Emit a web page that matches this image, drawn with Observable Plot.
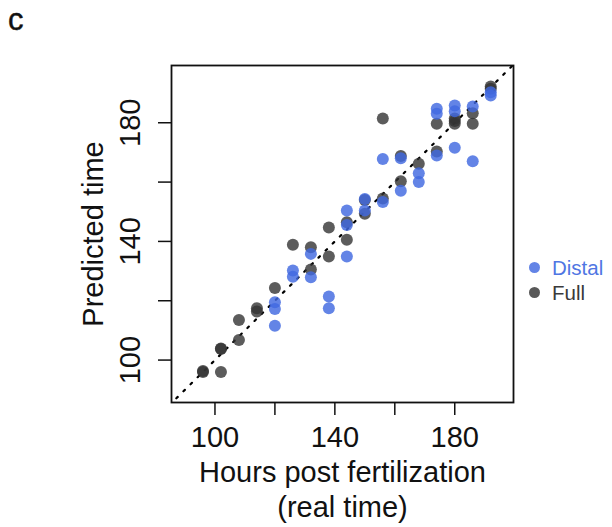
<!DOCTYPE html>
<html>
<head>
<meta charset="utf-8">
<script src="https://cdn.jsdelivr.net/npm/d3@7"></script>
<script src="https://cdn.jsdelivr.net/npm/@observablehq/plot@0.6"></script>
<style>
  html, body { margin: 0; padding: 0; background: #fff; }
  #wrap { position: relative; width: 612px; height: 527px; font-family: "Liberation Sans", Arial, sans-serif; }
  #chart { position: absolute; left: 0; top: 0; }
  .panel { position: absolute; left: 8px; top: 1px; font-size: 31px; line-height: 38px; color: #111; -webkit-text-stroke: 0.4px #111; }
  .legend { position: absolute; left: 529px; top: 255px; font-size: 20.5px; }
  .legend .row { display: flex; align-items: center; height: 25px; }
  .legend .sw { display: inline-block; width: 11px; height: 11px; border-radius: 50%; margin-right: 12px; }
</style>
</head>
<body>
<div id="wrap">
  <div id="chart"></div>
  <div class="panel">c</div>
  <div class="legend" id="legend"></div>
</div>
<script>
// ---- data (hours post fertilization vs predicted time) ----
const distalHours = [120,120,120, 126,126, 132,132, 138,138, 144,144,144, 150,150, 156,156, 162,162, 168,168, 174,174,174, 180,180,180, 186,186, 192,192];
const distalPred  = [119.5,117.2,111.6, 130.2,128.1, 135.8,127.9, 121.4,117.5, 150.4,145.5,134.9, 154.3,150.4, 167.8,153.3, 168.0,157.1, 163.0,160.0, 184.7,183.0,169.0, 185.8,183.9,171.6, 185.5,167.0, 190.3,189.2];

const fullHours = [96,96, 102,102,102, 108,108, 114,114, 120, 126, 132,132, 138,138, 144,144, 150,150, 156,156, 162,162, 168, 174,174, 180,180,180, 186,186, 192,192];
const fullPred  = [96.0,96.3, 103.7,103.9,96.0, 113.5,106.8, 117.5,116.4, 124.3, 138.9, 138.0,130.5, 144.7,134.9, 146.5,140.6, 154.0,149.3, 181.4,154.5, 168.8,160.3, 166.2, 179.7,170.3, 181.4,180.6,179.7, 183.2,179.7, 192.2,191.5];

const seriesNames  = ["Distal", "Full"];
const seriesColors = ["#4169E1", "#333333"];
const legendTextColors = ["#4f76e3", "#3a3a3a"];

const xTicks = [100, 120, 140, 160, 180];
const xTickLabels = [100, 140, 180];
const yTicks = [100, 120, 140, 160, 180];
const yTickLabels = [100, 140, 180];
const xDomain = [85.5, 199.6];
const yDomain = [85.7, 199.3];
const identityLine = [80, 205];

const xTitle = "Hours post fertilization\n(real time)";
const yTitle = "Predicted time";

// ---- build tables ----
const distal = distalHours.map((h, i) => ({hours: h, pred: distalPred[i], series: "Distal"}));
const full = fullHours.map((h, i) => ({hours: h, pred: fullPred[i], series: "Full"}));

const FS = 29;
const chart = Plot.plot({
  width: 612,
  height: 527,
  marginLeft: 171,
  marginRight: 99,
  marginTop: 65,
  marginBottom: 125,
  style: {fontFamily: '"Liberation Sans", Arial, sans-serif', color: "#111", background: "white", overflow: "visible"},
  x: {domain: xDomain, axis: null},
  y: {domain: yDomain, axis: null},
  color: {domain: seriesNames, range: seriesColors},
  marks: [
    Plot.line(identityLine, {x: d => d, y: d => d, stroke: "#000", strokeWidth: 2.2, strokeDasharray: "2,8", clip: true}),
    Plot.dot(full, {x: "hours", y: "pred", fill: "series", r: 6, fillOpacity: 0.8, stroke: "none"}),
    Plot.dot(distal, {x: "hours", y: "pred", fill: "series", r: 6, fillOpacity: 0.82, stroke: "none"}),
    Plot.frame({stroke: "#111", strokeWidth: 1.8}),
    Plot.axisX(xTicks, {anchor: "bottom", tickSize: 13, tickPadding: 11, strokeWidth: 1.5, fontSize: FS, label: null,
      tickFormat: d => xTickLabels.includes(d) ? String(d) : ""}),
    Plot.axisY(yTicks, {anchor: "left", tickSize: 13, strokeWidth: 1.5, label: null, tickFormat: () => ""}),
    Plot.text(yTickLabels, {y: d => d, text: d => String(d), frameAnchor: "left", dx: -41, rotate: -90, fontSize: FS, textAnchor: "middle", lineAnchor: "middle"}),
    Plot.text([xTitle], {frameAnchor: "bottom", dy: 55, lineAnchor: "top", fontSize: FS, lineHeight: 1.2, textAnchor: "middle"}),
    Plot.text([yTitle], {frameAnchor: "left", dx: -78, rotate: -90, fontSize: FS, textAnchor: "middle", lineAnchor: "middle"})
  ]
});
document.getElementById("chart").appendChild(chart);

// ---- legend ----
const legend = document.getElementById("legend");
seriesNames.forEach((name, i) => {
  const row = document.createElement("div");
  row.className = "row";
  const sw = document.createElement("span");
  sw.className = "sw";
  sw.style.background = seriesColors[i];
  sw.style.opacity = 0.82;
  const t = document.createElement("span");
  t.textContent = name;
  t.style.color = legendTextColors[i];
  row.appendChild(sw);
  row.appendChild(t);
  legend.appendChild(row);
});
</script>
</body>
</html>
